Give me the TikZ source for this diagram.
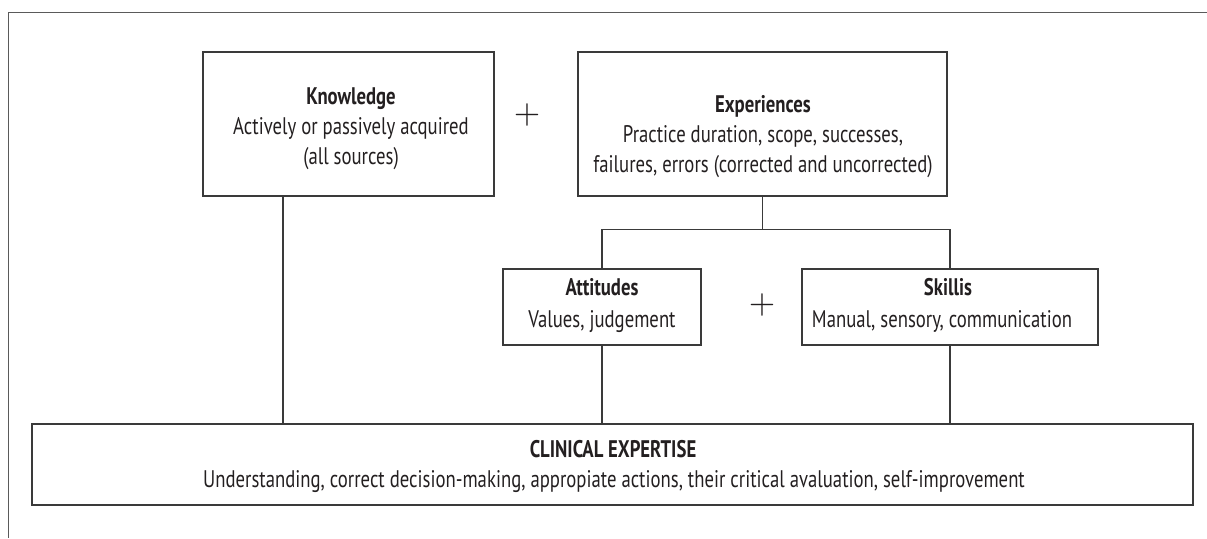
\documentclass[tikz,border=0pt]{standalone}
\usepackage{fontspec}
\setmainfont{PT Sans}[FakeStretch=0.78]
\definecolor{ink}{HTML}{231F20}
\definecolor{boxline}{HTML}{3A3A3A}
\definecolor{frameline}{HTML}{5A5A5A}
\begin{document}
\begin{tikzpicture}[x=1pt,y=-1pt,
  box/.style={draw=boxline, line width=1.3pt, rectangle, inner sep=0pt},
  link/.style={draw=boxline, line width=1.3pt},
  frame/.style={draw=frameline, line width=1.3pt},
  txt/.style={font=\fontsize{24}{30}\selectfont, text=ink, inner sep=0pt, anchor=base},
  ttl/.style={txt, font=\fontsize{24}{30}\selectfont\bfseries},
  plus/.style={font=\fontsize{10}{12}\selectfont, text=ink, inner sep=0pt}]
\useasboundingbox (0,0) rectangle (1207,538);

% outer frame (top and left edges)
\draw[frame] (1207,12.5) -- (8.5,12.5) -- (8.5,538);

% boxes
\node[box, minimum width=291pt, minimum height=144pt] (know) at (348.5,124) {};
\node[box, minimum width=369pt, minimum height=144pt] (exp)  at (762.5,124) {};
\node[box, minimum width=198pt, minimum height=76pt]  (att)  at (602,307) {};
\node[box, minimum width=296pt, minimum height=76pt]  (skl)  at (950,307) {};
\node[box, minimum width=1161pt, minimum height=81pt] (clin) at (612.5,464.5) {};

% box texts
\node[ttl] (know-t) at (351,104) {Knowledge};
\node[txt] (know-a) at (351,134) {Actively or passively acquired};
\node[txt] (know-b) at (351,164) {(all sources)};

\node[ttl] (exp-t) at (763,112) {Experiences};
\node[txt] (exp-a) at (763,142) {Practice duration, scope, successes,};
\node[txt] (exp-b) at (763,172) {failures, errors (corrected and uncorrected)};

\node[ttl] (att-t) at (602,295) {Attitudes};
\node[txt] (att-a) at (602,327) {Values, judgement};

\node[ttl] (skl-t) at (948,295) {Skillis};
\node[txt] (skl-a) at (942,327) {Manual, sensory, communication};

\node[ttl] (clin-t) at (613,457) {CLINICAL EXPERTISE};
\node[txt] (clin-a) at (614,487) {Understanding, correct decision-making, appropiate actions, their critical avaluation, self-improvement};

% plus signs
\node[plus] (p1) at (527,115) {\scalebox{3.4}{$+$}};
\node[plus] (p2) at (762,305) {\scalebox{3.4}{$+$}};

% connectors
\draw[link] (exp.south) -- ++(0,33) coordinate (fork);
\draw[link] (att.north) |- (fork) -| (skl.north);
\coordinate (kx) at (283,0);
\draw[link] (kx |- know.south) -- (kx |- clin.north);
\draw[link] (att.south) -- (att.south |- clin.north);
\draw[link] (skl.south) -- (skl.south |- clin.north);
\end{tikzpicture}
\end{document}
